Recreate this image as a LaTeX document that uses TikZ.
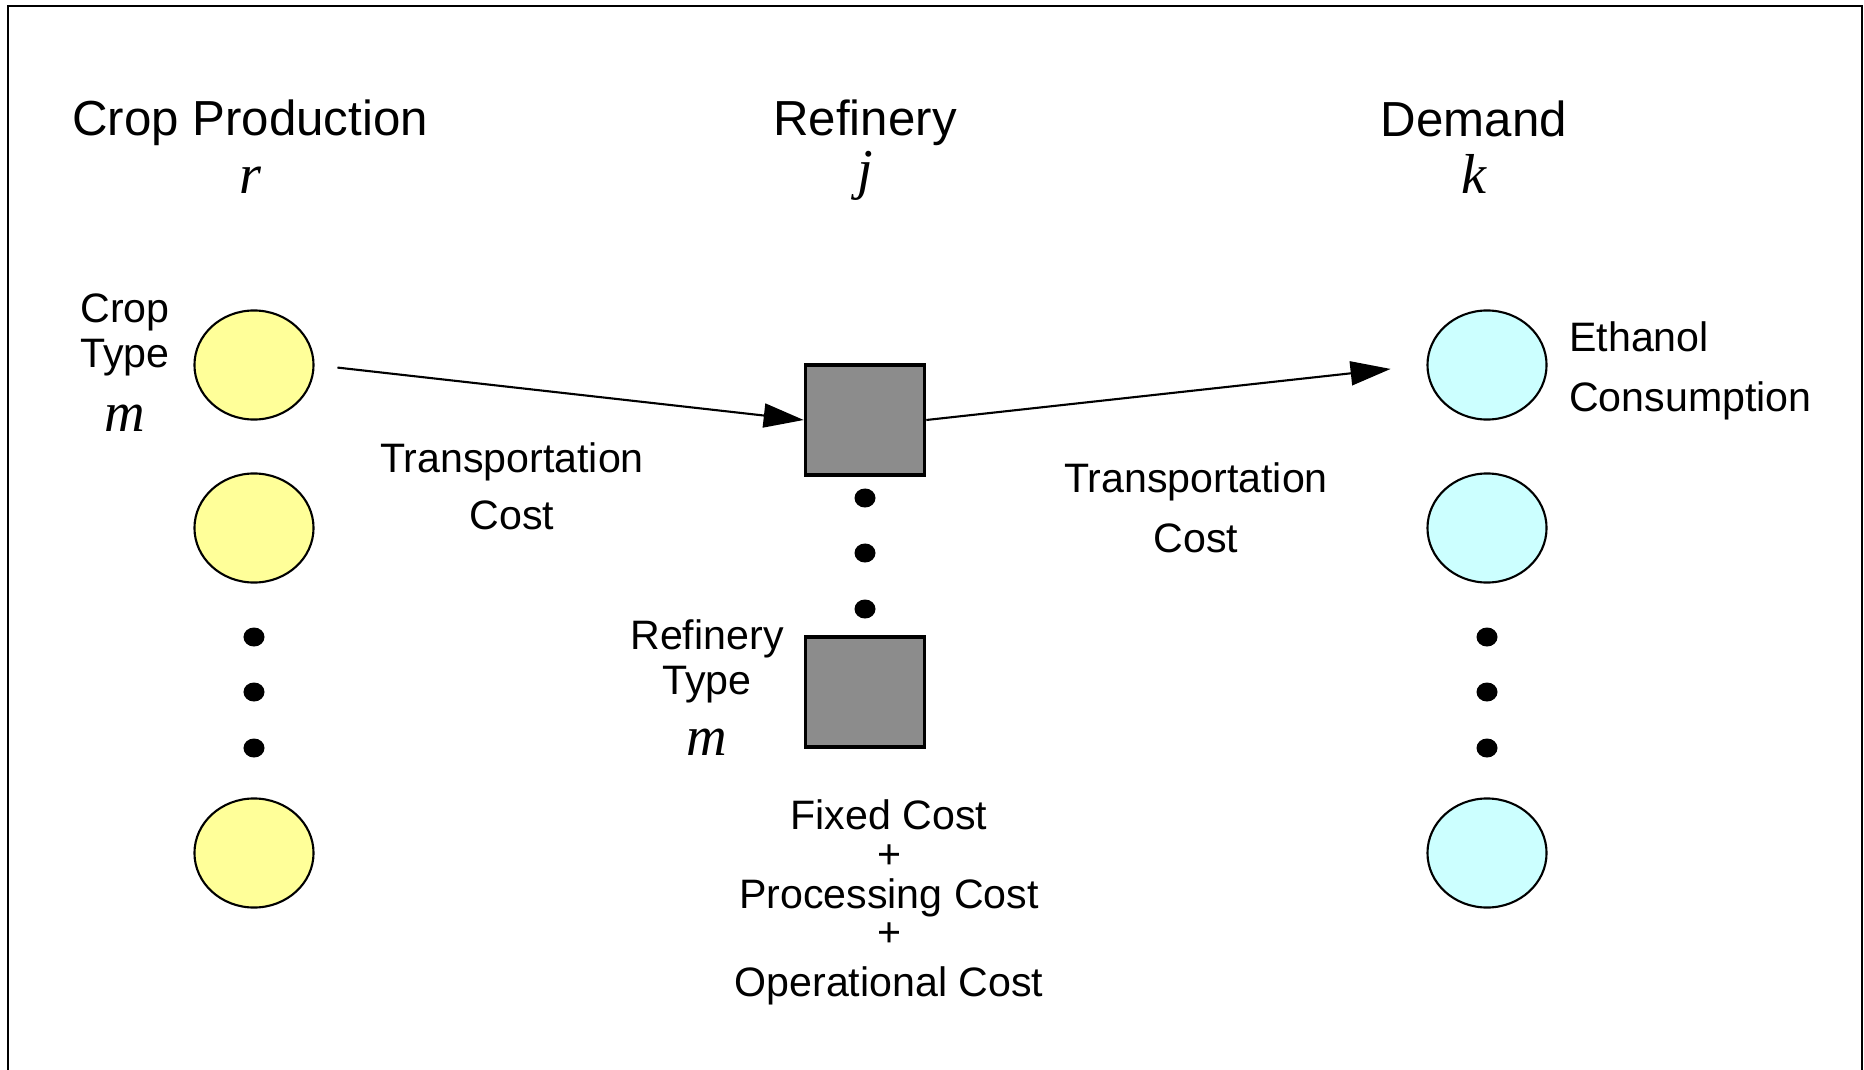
\documentclass[tikz,border=0pt]{standalone}
\usepackage{fontspec}
\setmainfont{Liberation Sans}
\newfontfamily\varfont{Liberation Serif}
\usetikzlibrary{arrows.meta,shapes.geometric}

\definecolor{cropyellow}{RGB}{255,255,153}
\definecolor{demandcyan}{RGB}{204,255,255}
\definecolor{refgray}{RGB}{140,140,140}

\tikzset{
  crop/.style={ellipse,draw,line width=0.6pt,fill=cropyellow,
    minimum width=1.19cm,minimum height=1.09cm,inner sep=0pt},
  demand/.style={crop,fill=demandcyan},
  refinery/.style={rectangle,draw,line width=1pt,fill=refgray,
    minimum width=1.19cm,minimum height=1.1cm,inner sep=0pt},
  bigdot/.style={ellipse,fill,inner sep=0pt,minimum width=0.21cm,minimum height=0.19cm},
  title/.style={font=\fontsize{14}{17}\selectfont},
  lbl/.style={font=\fontsize{11.7}{14}\selectfont,inner sep=1pt},
  var/.style={font=\fontsize{16}{18}\selectfont\varfont\itshape},
  flow/.style={-{Triangle[length=0.4cm,width=0.24cm]},line width=0.6pt}
}

\begin{document}
\begin{tikzpicture}[x=0.01cm,y=-0.01cm]
  \useasboundingbox (0,0) rectangle (1864,1070);
  \draw[line width=0.7pt] (8,1075) -- (8,6) -- (1862,6) -- (1862,1075);

  % column heads
  \node[title] (prodhead) at (250,123) {Crop Production};
  \node[var] (prodvar) at (250,180) {r};
  \node[title] (refhead) at (865,123) {Refinery};
  \node[var] (refvar) at (865,176) {j};
  \node[title] (demhead) at (1474,119) {Demand};
  \node[var] (demvar) at (1474,174) {k};

  % crop production
  \node[crop] (crop1) at (254,365) {};
  \node[crop] (crop2) at (254,528) {};
  \node[crop] (crop3) at (254,853) {};
  \foreach \y [count=\i] in {637,692,748}
    \node[bigdot] (cropdot\i) at (254,\y) {};
  \node[lbl] (croptxt) at (125,312) {Crop};
  \node[lbl] (typetxt) at (125,358) {Type};
  \node[var] (cropm) at (125,418) {m};

  % refineries
  \node[refinery] (ref1) at (865,420) {};
  \node[refinery] (ref2) at (865,692) {};
  \foreach \y [count=\i] in {498,553,609}
    \node[bigdot] (refdot\i) at (865,\y) {};
  \node[lbl] (reftxt) at (707,639) {Refinery};
  \node[lbl] (rtypetxt) at (707,685) {Type};
  \node[var] (refm) at (707,742) {m};

  % demand
  \node[demand] (dem1) at (1487,365) {};
  \node[demand] (dem2) at (1487,528) {};
  \node[demand] (dem3) at (1487,853) {};
  \foreach \y [count=\i] in {637,692,748}
    \node[bigdot] (demdot\i) at (1487,\y) {};
  \node[lbl,anchor=west] (ethtxt) at (1565,337) {Ethanol};
  \node[lbl,anchor=west] (constxt) at (1565,401) {Consumption};

  % flows
  \draw[flow,shorten <=0.23cm] (crop1.east) -- (ref1.west);
  \draw[flow,shorten >=0.36cm] (ref1.east) -- (dem1.west);
  \node[lbl] (trans1) at (512,462) {Transportation};
  \node[lbl] (cost1) at (512,515) {Cost};
  \node[lbl] (trans2) at (1196,482) {Transportation};
  \node[lbl] (cost2) at (1196,538) {Cost};

  % refinery costs
  \foreach \y/\t [count=\i] in {815/Fixed Cost,857/+,898/Processing Cost,935/+,986/Operational Cost}
    \node[lbl] (refcost\i) at (889,\y) {\t};
\end{tikzpicture}
\end{document}
